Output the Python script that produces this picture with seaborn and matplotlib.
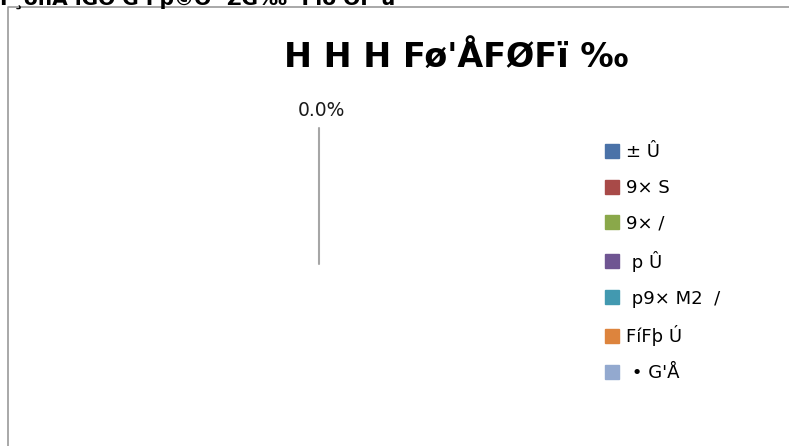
import matplotlib
matplotlib.use('Agg')
import matplotlib.pyplot as plt
import seaborn as sns
from matplotlib.lines import Line2D

# --- Data (garbled legacy labels kept as they appear) ---
title_text = "H H H Fø'ÅFØFï ‰"
header_text = "F¸ôñÅ ïGÓ G Fþ©Ó ¹ZG‰ ·Fiö ÕF ú"
categories = ["± Û", "9× S", "9× /", " p Û", " p9× M2  /", "FíFþ Ú", " • G'Å"]
values = [0, 0, 0, 0, 0, 0, 0]
colors = ["#4a72a8", "#a84a48", "#8aa84a", "#6f5592", "#4299b0", "#dd843d", "#93a9cf"]

sns.set_theme(style='white')
plt.rcParams['font.family'] = ['DejaVu Sans']
plt.rcParams['text.color'] = 'black'

fig = plt.figure(figsize=(7.89, 4.46), dpi=100)
ax = fig.add_axes([0, 0, 1, 1])
ax.set_xlim(0, 789)
ax.set_ylim(446, 0)
ax.axis('off')

# chart frame (left and top border visible)
ax.plot([8, 8, 789], [446, 7, 7], color='#9a9a9a', lw=1.2, solid_capstyle='butt')

# header line, clipped at the top of the image
ax.text(0, 5, header_text, fontsize=14.5, fontweight='bold', ha='left', va='baseline', color='black')

# title
ax.text(456, 57, title_text, fontsize=24, fontweight='bold', ha='center', va='center', color='black')

# pie share of first slice (all values are zero)
total = sum(values)
share = values[0] / total if total else 0.0
ax.text(321, 110, f"{share:.1%}", fontsize=13.5, ha='center', va='center', color='#1a1a1a')
ax.plot([319, 319], [128, 264], color='#a6a6a6', lw=1.5)

handles = [Line2D([0], [0], marker='s', linestyle='none', markersize=9.5,
                  markerfacecolor=c, markeredgecolor=c) for c in colors]
leg = ax.legend(handles, categories, loc='upper left', bbox_to_anchor=(604, 143),
                bbox_transform=ax.transData, frameon=False, fontsize=13,
                labelspacing=0.99, handlelength=0.9, handletextpad=0.3,
                borderpad=0, borderaxespad=0)
for t in leg.get_texts():
    t.set_color('black')

fig.savefig('out.png', dpi=100)
